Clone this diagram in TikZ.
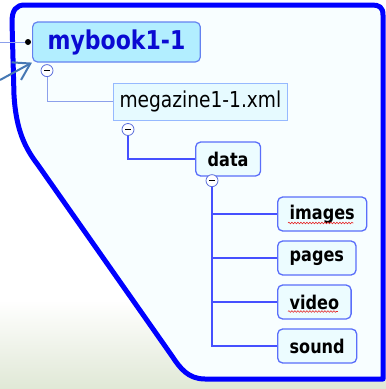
\documentclass[tikz,border=0pt]{standalone}
\usepackage{fontspec}
\setmainfont{DejaVu Sans}
\newfontfamily\treefont[FakeStretch=0.85]{DejaVu Sans}
\usetikzlibrary{positioning}
\usetikzlibrary{arrows.meta}
\usetikzlibrary{decorations.pathmorphing}

\definecolor{frameblue}{RGB}{0,0,255}
\definecolor{framefill}{RGB}{248,254,255}
\definecolor{groundgray}{RGB}{224,232,214}
\definecolor{rootfill}{RGB}{178,238,255}
\definecolor{rootedge}{RGB}{100,130,240}
\definecolor{roottext}{RGB}{10,10,210}
\definecolor{filefill}{RGB}{230,250,255}
\definecolor{fileedge}{RGB}{150,185,255}
\definecolor{leaffill}{RGB}{236,252,255}
\definecolor{leafedge}{RGB}{90,110,250}
\definecolor{toggleedge}{RGB}{90,110,220}
\definecolor{linkblue}{RGB}{70,80,255}
\definecolor{paleline}{RGB}{140,160,235}
\definecolor{pointerblue}{RGB}{70,120,180}
\definecolor{spellred}{RGB}{230,40,40}

\begin{document}
\begin{tikzpicture}[x=1bp,y=-1bp,
	rootbox/.style={draw=rootedge, fill=rootfill, rounded corners=5bp, line width=1.2bp,
		font=\treefont\fontsize{26}{30}\selectfont\bfseries, text=roottext, inner xsep=15bp,
		minimum height=40bp, anchor=west},
	filebox/.style={draw=fileedge, fill=filefill, line width=1bp,
		font=\treefont\fontsize{22}{26}\selectfont, inner xsep=6bp, minimum height=37bp, anchor=west},
	leafbox/.style={draw=leafedge, fill=leaffill, rounded corners=5bp, line width=1.3bp,
		font=\treefont\fontsize{19}{23}\selectfont\bfseries, inner xsep=12bp, minimum height=34bp, anchor=west},
	toggle/.style={circle, draw=toggleedge, fill=white, line width=0.8bp, minimum size=12bp, inner sep=0pt,
		path picture={\draw[black, line width=1.2bp] ([xshift=-3bp]path picture bounding box.center) -- ([xshift=3bp]path picture bounding box.center);}},
	link/.style={draw=linkblue, line width=1.5bp},
	spell/.style={draw=spellred, line width=0.6bp, decorate, decoration={snake, amplitude=0.8bp, segment length=3bp}}
]
\useasboundingbox (0,0) rectangle (386,389);

%background
\fill[white] (0,0) rectangle (386,389);
\shade[top color=white, bottom color=groundgray] (0,300) rectangle (386,389);

%frame
\filldraw[frameblue, fill=framefill, line width=5bp, line join=round]
	(383,379) -- (383,15) .. controls (383,7) and (379,5) .. (372,5) -- (25,5)
	.. controls (16,5) and (12,10) .. (12,22) -- (14,95)
	.. controls (16,130) and (25,148) .. (38,165) -- (172,356)
	.. controls (180,368) and (188,379) .. (205,379) -- cycle;

%nodes
\node[rootbox] (book) at (32,42) {mybook1-1};
\node[filebox] (mag) at (113,101.5) {megazine1-1.xml};
\node[leafbox] (data) at (195,159) {data};
\foreach \n [count=\i] in {images,pages,video,sound}
{
	\node[leafbox] (\n) at (277,170+44*\i) {\n};
}

%toggles
\node[toggle] (bookpm) at ([xshift=15bp,yshift=-8bp]book.south west) {};
\node[toggle] (magpm) at ([xshift=15bp,yshift=-9bp]mag.south west) {};
\node[toggle] (datapm) at ([xshift=17bp,yshift=-4bp]data.south west) {};

%links
\draw[draw=paleline, line width=1bp] (bookpm.south) |- (mag.west);
\draw[link, line width=2bp] (magpm.south) |- (data.west);
\foreach \n in {images,pages,video,sound}
{
	\draw[link] (datapm.south) |- (\n.west);
}

%pin and pointer
\coordinate (feed) at (0,42);
\coordinate (src) at (0,80);
\node[circle, fill=black, inner sep=0pt, minimum size=6bp] (pin) at ([xshift=-4bp]book.west) {};
\draw[draw=paleline, line width=0.8bp] (feed) -- (pin);
\draw[pointerblue, line width=2bp, -{Straight Barb[length=16bp, width=20bp, line width=2bp]}] (src) -- (book.south west);

%spelling marks
\draw[spell] ([xshift=11bp,yshift=-9bp]images.west) -- ([xshift=-14bp,yshift=-9bp]images.east);
\draw[spell] ([xshift=11bp,yshift=-9.5bp]video.west) -- ([xshift=-14bp,yshift=-9.5bp]video.east);

\end{tikzpicture}
\end{document}
